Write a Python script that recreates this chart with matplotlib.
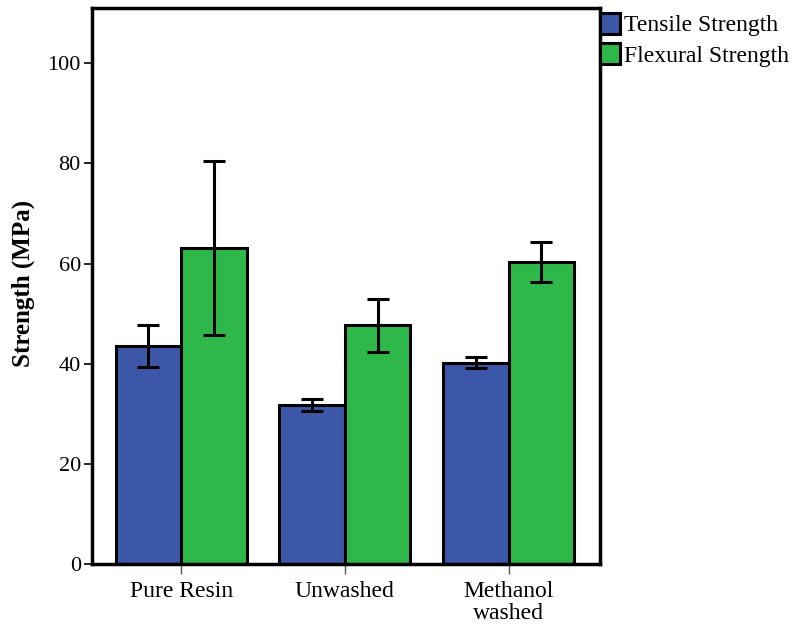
import matplotlib.pyplot as plt
import numpy as np

categories = ['Pure Resin', 'Unwashed', 'Methanol\nwashed']
tensile = [43.5, 31.8, 40.2]
tensile_err = [4.2, 1.2, 1.1]
flexural = [63.1, 47.7, 60.3]
flexural_err = [17.3, 5.3, 4.0]

plt.rcParams['font.family'] = ['Liberation Serif', 'DejaVu Serif']

fig = plt.figure(figsize=(7.92, 6.29), dpi=100)
ax = fig.add_axes([0.116, 0.103, 0.642, 0.884])

x = np.arange(len(categories))
w = 0.4
ax.bar(x - w/2, tensile, w, color='#3d57a8', edgecolor='black', linewidth=2.2,
       yerr=tensile_err, capsize=8, error_kw=dict(elinewidth=2.2, capthick=2.2),
       label='Tensile Strength')
ax.bar(x + w/2, flexural, w, color='#2eb84a', edgecolor='black', linewidth=2.2,
       yerr=flexural_err, capsize=8, error_kw=dict(elinewidth=2.2, capthick=2.2),
       label='Flexural Strength')

ax.set_xlim(-0.545, 2.56)
ax.set_ylim(0, 111)
ax.set_yticks([0, 20, 40, 60, 80, 100])
ax.set_xticks(x)
ax.set_xticklabels(categories, fontsize=17, linespacing=1.1)
ax.tick_params(axis='y', labelsize=16, length=6, width=1.2, pad=2)
ax.tick_params(axis='x', length=7, width=1, color='#555555', pad=5)
for s in ax.spines.values():
    s.set_linewidth(2.5)
ax.set_ylabel('Strength (MPa)', fontsize=18, fontweight='bold')
ax.yaxis.set_label_coords(-0.112, 0.505)

fig.legend(loc='upper left', bbox_to_anchor=(0.757, 0.98), frameon=False,
           fontsize=17, handlelength=0.85, handleheight=1.0, handletextpad=0.2,
           labelspacing=0.3, borderaxespad=0, borderpad=0.0)

fig.savefig('out.png', dpi=100)
